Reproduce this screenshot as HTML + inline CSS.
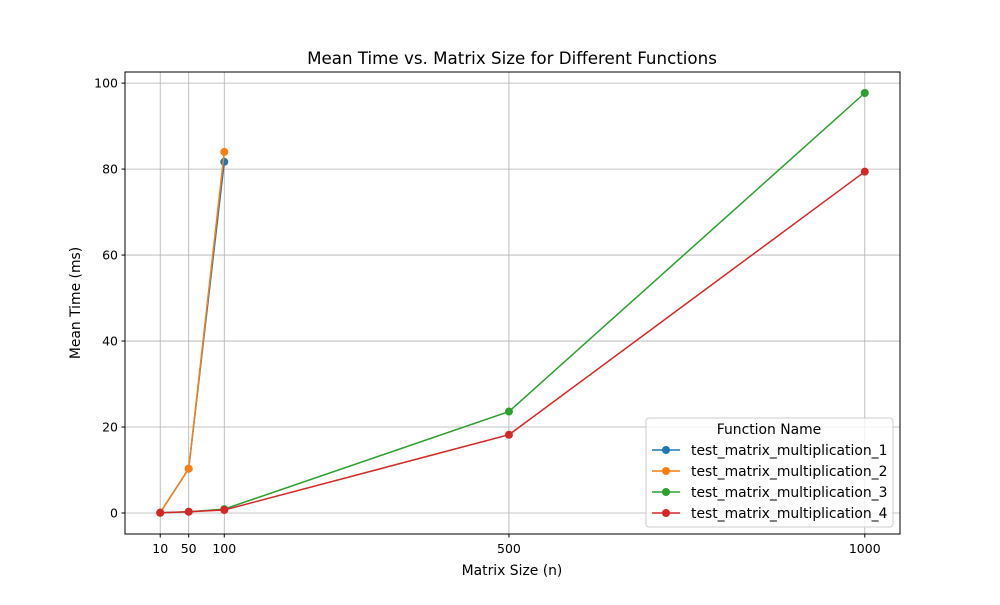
<!DOCTYPE html>
<html><head><meta charset="utf-8"><style>
body{margin:0;background:#fff}
svg{font-family:"DejaVu Sans","Liberation Sans",sans-serif}
</style></head><body>
<svg id="chart" width="1000" height="600" viewBox="0 0 1000 600">
<rect width="1000" height="600" fill="#fff"/>
<g id="grid"></g>
<g id="series"></g>
<rect x="125" y="72" width="775" height="462" fill="none" stroke="#000" stroke-width="1"/>
<g id="ticks"></g>
<text x="512" y="64" text-anchor="middle" font-size="16.7">Mean Time vs. Matrix Size for Different Functions</text>
<text x="512" y="575" text-anchor="middle" font-size="13.9">Matrix Size (n)</text>
<text transform="translate(80,303) rotate(-90)" text-anchor="middle" font-size="13.9">Mean Time (ms)</text>
<g id="legend"></g>
</svg>
<script>
const xTicks = [10, 50, 100, 500, 1000];
const yTicks = [0, 20, 40, 60, 80, 100];
const seriesNames = ["test_matrix_multiplication_1","test_matrix_multiplication_2","test_matrix_multiplication_3","test_matrix_multiplication_4"];
const colors = ["#1f77b4","#ff7f0e","#2ca02c","#d62728"];
const s1x = [10, 50, 100];
const s1y = [0.1, 10.3, 81.7];
const s2x = [10, 50, 100];
const s2y = [0.1, 10.3, 84.0];
const s3x = [10, 50, 100, 500, 1000];
const s3y = [0.05, 0.3, 0.9, 23.6, 97.7];
const s4x = [10, 50, 100, 500, 1000];
const s4y = [0.05, 0.3, 0.7, 18.2, 79.4];

const L=125,R=900,T=72,B=534;
const xmin=-39.5,xmax=1049.5,ymin=-4.885,ymax=102.585;
const sx=v=>L+(v-xmin)/(xmax-xmin)*(R-L);
const sy=v=>B-(v-ymin)/(ymax-ymin)*(B-T);
const NS="http://www.w3.org/2000/svg";
function mk(tag,attrs,parent){const e=document.createElementNS(NS,tag);for(const k in attrs)e.setAttribute(k,attrs[k]);parent.appendChild(e);return e;}
const grid=document.getElementById('grid'),ticks=document.getElementById('ticks'),ser=document.getElementById('series'),leg=document.getElementById('legend');
xTicks.forEach(v=>{const x=sx(v);
 const g=mk('line',{x1:x,x2:x,y1:T,y2:B,stroke:'#b0b0b0','stroke-width':0.8},grid);
 
 
 mk('line',{x1:x,x2:x,y1:B,y2:B+3.5,stroke:'#000'},ticks);
 const t=mk('text',{x:x,y:B+19,'text-anchor':'middle','font-size':12.5},ticks);t.textContent=v;
 
 
});
yTicks.forEach(v=>{const y=sy(v);
 const g=mk('line',{x1:L,x2:R,y1:y,y2:y,stroke:'#b0b0b0','stroke-width':0.8},grid);
 
 
 mk('line',{x1:L-3.5,x2:L,y1:y,y2:y,stroke:'#000'},ticks);
 const t=mk('text',{x:L-7,y:y+4.5,'text-anchor':'end','font-size':12.5},ticks);t.textContent=v;
 
 
});
const allX=[s1x,s2x,s3x,s4x],allY=[s1y,s2y,s3y,s4y];
allX.forEach((xs,i)=>{
 const g=mk('g',{},ser);
 
 
 mk('polyline',{points:xs.map((x,j)=>sx(x)+','+sy(allY[i][j])).join(' '),fill:'none',stroke:colors[i],'stroke-width':1.5},g);
 xs.forEach((x,j)=>{const c=mk('circle',{cx:sx(x),cy:sy(allY[i][j]),r:4,fill:colors[i]},g);
  
  });
});
mk('rect',{x:646,y:418,width:247,height:109,rx:3,fill:'#fff','fill-opacity':0.8,stroke:'#ccc'},leg);
const lt=mk('text',{x:769,y:434,'text-anchor':'middle','font-size':13.9},leg);lt.textContent='Function Name';


seriesNames.forEach((n,i)=>{const y=450+i*21;
 const g=mk('g',{},leg);
 
 
 mk('line',{x1:652,x2:680,y1:y,y2:y,stroke:colors[i],'stroke-width':1.5},g);
 mk('circle',{cx:666,cy:y,r:4,fill:colors[i]},g);
 const t=mk('text',{x:691,y:y+5,'font-size':13.9},g);t.textContent=n;
});
</script>
</body></html>
